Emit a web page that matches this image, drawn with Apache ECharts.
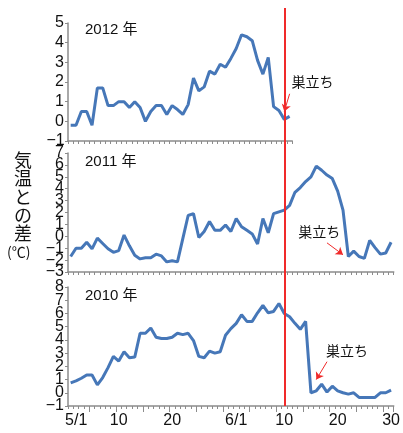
<!DOCTYPE html>
<html>
<head>
<meta charset="utf-8">
<script src="https://cdn.jsdelivr.net/npm/echarts@6/dist/echarts.min.js"></script>
<style>
    html, body { margin: 0; padding: 0; background: #fff; }
    #content { width: 403px; height: 433px; }
</style>
</head>
<body>
<div id="content"></div>
<script>
// categories: 5/1 .. 6/30
var days = [];
for (var d = 1; d <= 31; d++) days.push('5/' + d);
for (var d = 1; d <= 30; d++) days.push('6/' + d);

var labelDays = ['5/1', '5/10', '5/20', '6/1', '6/10', '6/20', '6/30'];
var labelTexts = ['5/1', '10', '20', '6/1', '10', '20', '30'];

var ticks2012 = [-1, 0, 1, 2, 3, 4, 5];
var ticks2011 = [-3, -2, -1, 0, 1, 2, 3, 4, 5, 6, 7];
var ticks2010 = [-1, 0, 1, 2, 3, 4, 5, 6, 7, 8];

var years = ['2012 年', '2011 年', '2010 年'];
var fledgeDay = '6/10';

var temp2012 = [-0.2, -0.2, 0.5, 0.5, -0.2, 1.7, 1.7, 0.8, 0.8, 1.0,
    1.0, 0.7, 1.0, 0.7, 0.0, 0.5, 0.8, 0.8, 0.35, 0.8,
    0.6, 0.35, 0.85, 2.2, 1.55, 1.75, 2.55, 2.4, 2.9, 2.75,
    3.2, 3.7, 4.4, 4.3, 4.1, 3.1, 2.4, 3.25, 0.75, 0.55,
    0.1, 0.25];

var temp2011 = [-1.7, -1.0, -1.0, -0.5, -1.05, -0.15, -0.6, -1.05, -1.35, -1.2,
    0.1, -0.8, -1.6, -1.9, -1.8, -1.8, -1.5, -1.65, -2.15, -2.05,
    -2.15, -0.2, 1.75, 1.9, -0.1, 0.4, 1.25, 0.5, 0.5, 0.95,
    0.4, 1.5, 0.8, 0.5, 0.2, -0.65, 1.5, 0.3, 1.9, 2.05,
    2.2, 2.6, 3.7, 4.1, 4.6, 5.0, 5.9, 5.55, 5.15, 4.85,
    3.8, 2.2, -1.7, -1.25, -1.7, -1.85, -0.35, -0.95, -1.5, -1.4,
    -0.5];

var temp2010 = [0.75, 0.9, 1.1, 1.35, 1.35, 0.6, 1.15, 1.9, 2.75, 2.4,
    3.1, 2.65, 2.7, 4.5, 4.5, 4.9, 4.2, 4.1, 4.1, 4.2,
    4.5, 4.4, 4.5, 3.95, 2.75, 2.65, 3.15, 3.0, 3.1, 4.35,
    4.85, 5.25, 5.9, 5.4, 5.4, 6.05, 6.6, 6.05, 6.15, 6.75,
    6.0, 5.75, 5.25, 4.8, 5.4, 0.0, 0.15, 0.65, 0.05, 0.5,
    0.15, 0.0, -0.1, 0.0, -0.35, -0.35, -0.35, -0.35, 0.0, 0.0,
    0.2];

// annotation "巣立ち": arrow [from, to] and text anchor, per panel
var arrow2012 = [['6/11', 1.4], ['6/10', 0.5]];
var arrow2011 = [['6/18', -0.55], ['6/21', -1.55]];
var arrow2010 = [['6/18', 2.35], ['6/16', 1.0]];
var note2012 = ['6/11', 2.0];
var note2011 = ['6/16', 0.42];
var note2010 = ['6/21', 3.2];

var font = '"Liberation Sans", Arial, "Noto Sans CJK JP", sans-serif';
var jpFont = '"Noto Sans CJK JP", sans-serif';
var blue = '#4677b8';
var red = '#f02a2a';
var grey = '#8c8c8c';
var band = 5.34;

var element = document.getElementById('content');
var myChart = echarts.init(element);

function fmt(v) { return String(v).replace('-', '\u2212'); }

function labelStyle(values) {
    if (!values || !values.length) return { show: false };
    return {
        margin: 4, fontSize: 16, color: '#111', fontFamily: font,
        customValues: values,
        showMinLabel: true, showMaxLabel: true, hideOverlap: false,
        formatter: fmt
    };
}

// labels are split over two axes (a and b) so crowded ones don't get dropped
function yAxesOf(gi, ticks, a, b) {
    var min = ticks[0], max = ticks[ticks.length - 1];
    return [{
        type: 'value', gridIndex: gi, min: min, max: max, interval: 1, position: 'left',
        splitLine: { show: false },
        axisLine: { show: true, lineStyle: { color: grey, width: 1.5 } },
        axisTick: { show: true, length: 3, lineStyle: { color: grey } },
        axisLabel: labelStyle(a)
    }, {
        type: 'value', gridIndex: gi, min: min, max: max, interval: 1, position: 'left', offset: 0,
        splitLine: { show: false },
        axisLine: { show: false },
        axisTick: { show: false },
        axisLabel: labelStyle(b)
    }];
}

function evens(t) { return t.filter(function(v, i) { return i % 2 === 0; }); }
function odds(t) { return t.filter(function(v, i) { return i % 2 === 1; }); }

function xAxisOf(gi, cats) {
    return {
        type: 'category', gridIndex: gi, data: cats, boundaryGap: true, position: 'bottom',
        axisLine: { onZero: false, lineStyle: { color: grey, width: 1.5 } },
        axisTick: { show: true, interval: 0, length: 3, lineStyle: { color: grey } },
        axisLabel: { show: false }
    };
}

function note(coord, dx) {
    return {
        symbol: 'circle', symbolSize: 0, silent: true,
        itemStyle: { color: 'transparent' },
        label: {
            show: true, position: 'inside', offset: [dx, 0],
            formatter: '巣立ち', fontSize: 14, color: '#111', fontFamily: jpFont
        },
        data: [{ coord: coord }]
    };
}

function arrow(pair) {
    return {
        silent: true, symbol: ['none', 'arrow'], symbolSize: 7,
        lineStyle: { color: red, width: 1, type: 'solid' },
        label: { show: false },
        data: [[{ coord: pair[0] }, { coord: pair[1] }]]
    };
}

function line(xi, yi, data, pair, coord, dx) {
    return {
        type: 'line', xAxisIndex: xi, yAxisIndex: yi, data: data,
        symbol: 'none', animation: false, clip: false,
        lineStyle: { color: blue, width: 3 },
        markLine: arrow(pair),
        markPoint: note(coord, dx)
    };
}

var x2010 = xAxisOf(2, days);
x2010.axisLabel = {
    show: true, margin: 7, fontSize: 16, color: '#111', fontFamily: font,
    interval: function(i, v) { return labelDays.indexOf(v) >= 0; },
    formatter: function(v) {
        var k = labelDays.indexOf(v);
        return k === 0 ? '{first|' + labelTexts[k] + '}' : labelTexts[k];
    },
    rich: { first: { padding: [0, 0, 0, 11], fontSize: 16, color: '#111', fontFamily: font } }
};

// the 2012 bottom label gets dropped by the axis, so it is placed at the axis minimum as a label
var s2012 = line(0, 0, temp2012, arrow2012, note2012, 23);
s2012.markPoint.data.push({
    coord: [days[0], ticks2012[0]],
    label: {
        show: true, position: 'left', distance: 6, offset: [0, 0],
        formatter: fmt(ticks2012[0]), fontSize: 16, color: '#111', fontFamily: font
    }
});

var option = {
    backgroundColor: '#fff',
    animation: false,
    title: years.map(function(t, i) {
        return {
            text: t, left: 85, top: [22, 154, 288][i], padding: 0,
            textStyle: { fontSize: 15, fontWeight: 'normal', color: '#111', fontFamily: font }
        };
    }),
    grid: [
        { left: 68, top: 23, width: band * temp2012.length, height: 118 },
        { left: 68, top: 153, width: band * days.length, height: 119 },
        { left: 68, top: 287, width: band * days.length, height: 119 },
        { left: 68, top: 8, width: band * days.length, height: 398 }
    ],
    xAxis: [
        xAxisOf(0, days.slice(0, temp2012.length)),
        xAxisOf(1, days),
        x2010,
        {
            type: 'category', gridIndex: 2, data: days, boundaryGap: true, position: 'bottom',
            axisLine: { show: false, onZero: false },
            axisTick: {
                show: true, length: 6, lineStyle: { color: grey },
                interval: function(i) { return i % 5 === 4; }
            },
            axisLabel: { show: false }
        },
        { type: 'category', gridIndex: 3, data: days, boundaryGap: true, show: false }
    ],
    yAxis: [].concat(
        yAxesOf(0, ticks2012, ticks2012.slice(1), null),
        yAxesOf(1, ticks2011, evens(ticks2011), odds(ticks2011)),
        yAxesOf(2, ticks2010, evens(ticks2010), odds(ticks2010)),
        [{ type: 'value', gridIndex: 3, min: 0, max: 1, show: false }]
    ),
    series: [
        s2012,
        line(1, 2, temp2011, arrow2011, note2011, 3),
        line(2, 4, temp2010, arrow2010, note2010, 4),
        {
            type: 'line', xAxisIndex: 4, yAxisIndex: 6, data: [],
            markLine: {
                silent: true, symbol: 'none',
                lineStyle: { color: red, width: 2, type: 'solid' },
                label: { show: false },
                data: [{ xAxis: fledgeDay }]
            }
        }
    ],
    graphic: [
        {
            type: 'text', left: 14, top: 151,
            style: { text: '気\n温\nと\nの\n差', font: '18px ' + jpFont, lineHeight: 18.3, fill: '#111' }
        },
        {
            type: 'text', left: 7, top: 245,
            style: { text: '(℃)', font: '14px ' + jpFont, fill: '#111' }
        }
    ]
};
myChart.setOption(option);
</script>
</body>
</html>
